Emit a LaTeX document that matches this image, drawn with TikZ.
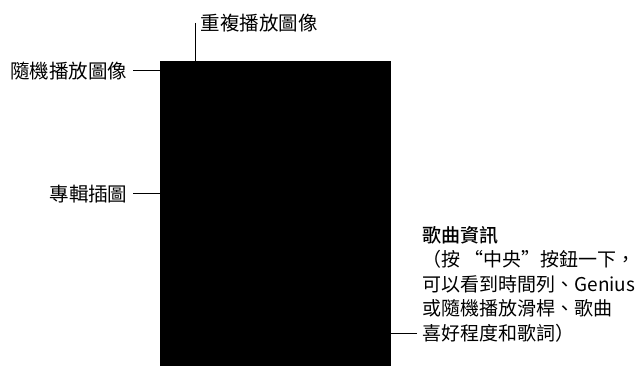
\documentclass[tikz,border=0pt]{standalone}
\usepackage{fontspec}
\newfontfamily\cjk[BoldFont={Noto Sans CJK TC Medium}]{Noto Sans CJK TC}
\usetikzlibrary{positioning}
\tikzset{lbl/.style = {font=\cjk\fontsize{19.5}{24.5}\selectfont, inner sep=0, outer xsep=5.5pt, outer ysep=0}}
\tikzset{callout/.style = {line width=1pt}}

\begin{document}
\begin{tikzpicture}[x=1pt,y=-1pt]
        \useasboundingbox (0,0) rectangle (641,366);
        \node [fill, inner sep=0, minimum width=231pt, minimum height=305pt, anchor=north west] (screen) at (160,61) {};
        % labels round the screen
        \node [lbl, anchor=west] (repeat) at (195,23) {重複播放圖像};
        \node [lbl, anchor=east] (shuffle) at (133,71) {隨機播放圖像};
        \node [lbl, anchor=east] (artwork) at (133,194) {專輯插圖};
        \node [lbl, anchor=north west, align=left, font=\cjk\fontsize{19}{24.5}\selectfont] (info) at (417,226) {{\bfseries 歌曲資訊}\\（按 “中央”按鈕一下，\\可以看到時間列、Genius\\或隨機播放滑桿、歌曲\\喜好程度和歌詞）};
        \coordinate [yshift=8pt] (infoend) at (info.south west);
        \draw [callout] (repeat.west) -- (repeat.west |- screen.north);
        \draw [callout] (shuffle.east) -- (shuffle.east -| screen.west);
        \draw [callout] (artwork.east) -- (artwork.east -| screen.west);
        \draw [callout] (infoend) -- (infoend -| screen.east);
    \end{tikzpicture}
\end{document}
